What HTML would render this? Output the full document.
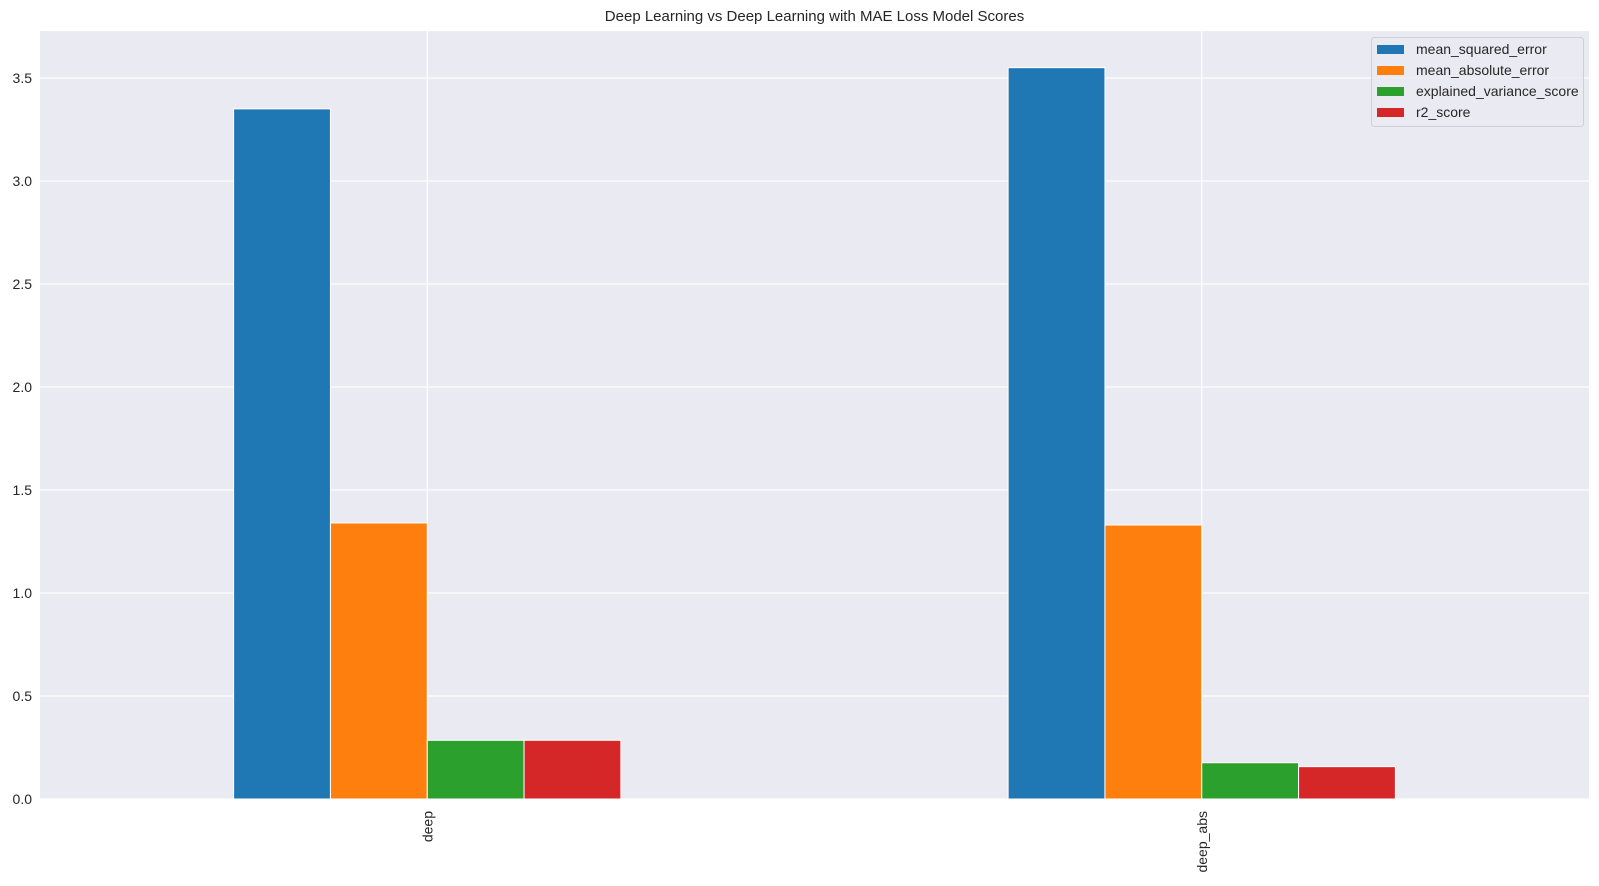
<!DOCTYPE html>
<html><head><meta charset="utf-8"><style>
body{margin:0;background:#fff;font-family:"Liberation Sans",Arial,sans-serif}
svg text{font-family:"Liberation Sans",Arial,sans-serif;fill:#262626}
</style></head><body>
<svg id="chart" width="1599" height="881"></svg>
<script>
const categories = ["deep", "deep_abs"];
const seriesNames = ["mean_squared_error", "mean_absolute_error", "explained_variance_score", "r2_score"];
const mseValues = [3.35, 3.55];
const maeValues = [1.34, 1.33];
const evsValues = [0.285, 0.176];
const r2Values = [0.285, 0.157];
const yTicks = [0.0, 0.5, 1.0, 1.5, 2.0, 2.5, 3.0, 3.5];
const yTickLabels = ["0.0", "0.5", "1.0", "1.5", "2.0", "2.5", "3.0", "3.5"];
const colors = ["#1f77b4", "#ff7f0e", "#2ca02c", "#d62728"];
const series = [mseValues, maeValues, evsValues, r2Values];

const L = 40, R = 1589, T = 31, B = 799;
const yMax = 3.728;
const NS = "http://www.w3.org/2000/svg";
const svg = document.getElementById("chart");
function y(v){ return B - v / yMax * (B - T); }
function x(i){ return L + (i + 0.5) / categories.length * (R - L); }
const unit = (R - L) / categories.length;
function mk(tag, attrs, parent){ const e = document.createElementNS(NS, tag); for (const k in attrs) e.setAttribute(k, attrs[k]); (parent || svg).appendChild(e); return e; }

const bg = mk("rect", {x: L, y: T, width: R - L, height: B - T, fill: "#eaeaf2"});


yTicks.forEach((v, i) => {
  const g = mk("line", {x1: L, x2: R, y1: y(v), y2: y(v), stroke: "#fff", "stroke-width": 1.2});
  
  
  const t = mk("text", {x: L - 8, y: y(v) + 5, "text-anchor": "end", "font-size": 14});
  t.textContent = yTickLabels[i];
  
  
});
categories.forEach((c, i) => {
  const g = mk("line", {x1: x(i), x2: x(i), y1: T, y2: B, stroke: "#fff", "stroke-width": 1.2});
  
  
});
const bw = unit * 0.125;
series.forEach((vals, s) => {
  vals.forEach((v, i) => {
    const bx = x(i) - 2 * bw + s * bw;
    const r = mk("rect", {x: bx, y: y(v), width: bw, height: B - y(v), fill: colors[s], stroke: "#fff", "stroke-width": 1});
    
    
  });
});
categories.forEach((c, i) => {
  const t = mk("text", {transform: `translate(${x(i) + 5},${B + 12}) rotate(-90)`, "text-anchor": "end", "font-size": 14});
  t.textContent = c;
  
  
});
const title = mk("text", {x: (L + R) / 2, y: 21, "text-anchor": "middle", "font-size": 15});
title.textContent = "Deep Learning vs Deep Learning with MAE Loss Model Scores";



const lg = mk("g", {});


mk("rect", {x: 1371.5, y: 37.5, width: 212, height: 89, rx: 3, fill: "#eaeaf2", stroke: "#cfcfd6", "fill-opacity": 0.8}, lg);
seriesNames.forEach((n, s) => {
  const yy = 49 + s * 21;
  const p = mk("rect", {x: 1377, y: yy - 4, width: 27, height: 9, fill: colors[s]}, lg);
  
  
  const t = mk("text", {x: 1416, y: yy + 5, "font-size": 14}, lg);
  t.textContent = n;
  
  
});
</script>
</body></html>
